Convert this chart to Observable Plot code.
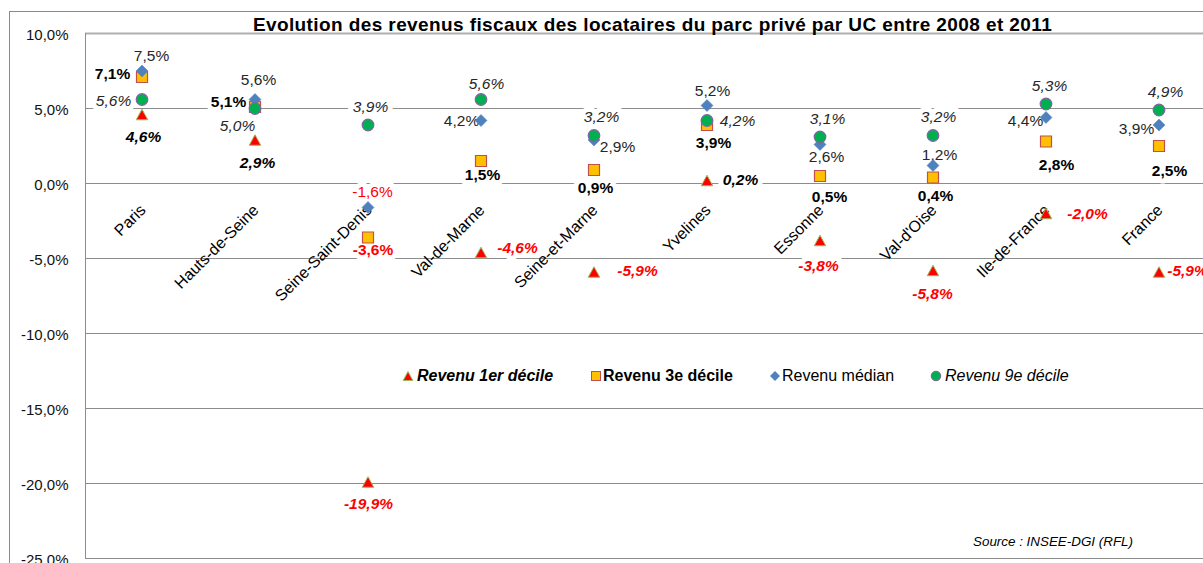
<!DOCTYPE html>
<html>
<head>
<meta charset="utf-8">
<script src="https://cdn.jsdelivr.net/npm/d3@7"></script>
<script src="https://cdn.jsdelivr.net/npm/@observablehq/plot@0.6"></script>
<style>
  html, body { margin: 0; padding: 0; background: #fff; }
  #wrap { position: relative; width: 1203px; height: 563px; overflow: hidden; font-family: "Liberation Sans", Arial, sans-serif; }
  #chart { position: absolute; left: 0; top: 0; }
  #border { position: absolute; left: 9px; top: 11px; width: 1400px; height: 800px; border-left: 1px solid #8a8a8a; border-top: 1px solid #8a8a8a; pointer-events: none; }
  #title { position: absolute; left: 0; top: 14px; width: 1305px; text-align: center; font-weight: bold; font-size: 19px; line-height: 22px; letter-spacing: 0.4px; color: #000; white-space: nowrap; }
  .leg { position: absolute; top: 367px; font-size: 16px; line-height: 18px; color: #000; white-space: nowrap; }
  .legm { position: absolute; top: 370px; width: 12px; height: 12px; }
  #source { position: absolute; left: 973px; top: 534px; font-size: 13.4px; line-height: 16px; font-style: italic; color: #000; white-space: nowrap; }
</style>
</head>
<body>
<div id="wrap">
  <div id="chart"></div>
  <div id="border"></div>
  <div id="title"></div>
  <div id="legend"></div>
  <div id="source"></div>
</div>
<script>
// ---------- data ----------
const categories = ["Paris", "Hauts-de-Seine", "Seine-Saint-Denis", "Val-de-Marne", "Seine-et-Marne", "Yvelines", "Essonne", "Val-d'Oise", "Ile-de-France", "France"];
const decile1 = [4.6, 2.9, -19.9, -4.6, -5.9, 0.2, -3.8, -5.8, -2.0, -5.9];
const decile3 = [7.1, 5.1, -3.6, 1.5, 0.9, 3.9, 0.5, 0.4, 2.8, 2.5];
const median  = [7.5, 5.6, -1.6, 4.2, 2.9, 5.2, 2.6, 1.2, 4.4, 3.9];
const decile9 = [5.6, 5.0, 3.9, 5.6, 3.2, 4.2, 3.1, 3.2, 5.3, 4.9];
const seriesNames = ["Revenu 1er décile", "Revenu 3e décile", "Revenu médian", "Revenu 9e décile"];
const yTicks = [10, 5, 0, -5, -10, -15, -20, -25];
const titleText = "Evolution des revenus fiscaux des locataires du parc privé par UC entre 2008 et 2011";
const sourceText = "Source : INSEE-DGI (RFL)";
const axisCrossing = 0;

// ---------- label placement (pixel offsets from each marker) ----------
const labelOffsets = {
  d1:  [[1.5, 23], [2.5, 23.5], [0.5, 22.5], [36.5, -4], [43.5, -0.5], [33.5, 0], [-1.5, 26], [-0.5, 24], [41.5, 1], [28.5, -1]],
  d3:  [[-29.5, -2.5], [-26.5, -4.5], [5, 13], [1.5, 14.5], [1.5, 18.5], [6.5, 18.5], [9.5, 21.5], [2.5, 19], [10.5, 24], [10.5, 25.5]],
  med: [[9.5, -14.5], [3.5, -19], [4.5, -15], [-19.5, 1], [23.5, 7.5], [5.5, -14], [6.5, 13], [6.5, -10], [-20.5, 4], [-22.5, 4.5]],
  d9:  [[-28.5, 2], [-17.5, 18], [2.5, -17.5], [5.5, -15], [7.5, -18], [30.5, 1], [7.5, -17.5], [5.5, -18], [3.5, -17.5], [6.5, -17.5]]
};

// ---------- styles ----------
const triangleSym = {draw(ctx) { const w = 11.5, h = 10.5; ctx.moveTo(0, -h / 2); ctx.lineTo(w / 2, h / 2); ctx.lineTo(-w / 2, h / 2); ctx.closePath(); }};
const squareSym = {draw(ctx) { const s = 11; ctx.moveTo(-s / 2, -s / 2); ctx.lineTo(s / 2, -s / 2); ctx.lineTo(s / 2, s / 2); ctx.lineTo(-s / 2, s / 2); ctx.closePath(); }};
const diamondSym = {draw(ctx) { const w = 12, h = 12; ctx.moveTo(0, -h / 2); ctx.lineTo(w / 2, 0); ctx.lineTo(0, h / 2); ctx.lineTo(-w / 2, 0); ctx.closePath(); }};

const seriesDefs = [
  {key: "d1",  name: seriesNames[0], values: decile1, symbol: triangleSym, r: 5, fill: "#FF0000", stroke: "#9BBB59", sw: 1,
   fontWeight: "bold", fontStyle: "italic", pos: "#000", neg: "#FF0000"},
  {key: "d3",  name: seriesNames[1], values: decile3, symbol: squareSym, r: 5, fill: "#FFC000", stroke: "#C0504D", sw: 1.2,
   fontWeight: "bold", fontStyle: "normal", pos: "#000", neg: "#FF0000"},
  {key: "med", name: seriesNames[2], values: median, symbol: diamondSym, r: 5, fill: "#4F81BD", stroke: "#4F81BD", sw: 0.5,
   fontWeight: "normal", fontStyle: "normal", pos: "#262626", neg: "#FF0000"},
  {key: "d9",  name: seriesNames[3], values: decile9, symbol: "circle", r: 5.8, fill: "#00B050", stroke: "#8064A2", sw: 1.2,
   fontWeight: "normal", fontStyle: "italic", pos: "#262626", neg: "#FF0000"}
];

const fmt = v => v.toFixed(1).replace(".", ",") + "%";

// ---------- marks ----------
const labelMarks = [];
const dotMarks = [];
for (const s of seriesDefs) {
  const rows = categories.map((c, i) => ({cat: c, value: s.values[i]}));
  rows.forEach((row, i) => {
    const [dx, dy] = labelOffsets[s.key][i];
    labelMarks.push(Plot.text([row], {
      x: "cat", y: "value", text: d => fmt(d.value), dx, dy,
      fontSize: 15.5, fontWeight: s.fontWeight, fontStyle: s.fontStyle,
      fill: row.value < 0 ? s.neg : s.pos,
      stroke: "white", strokeWidth: 10, strokeLinejoin: "round", paintOrder: "stroke",
      textAnchor: "middle", lineAnchor: "middle"
    }));
  });
  dotMarks.push(Plot.dot(rows, {
    x: "cat", y: "value", symbol: () => s.symbol, r: s.r,
    fill: s.fill, stroke: s.stroke, strokeWidth: s.sw
  }));
}

const chart = Plot.plot({
  width: 1203,
  height: 563,
  marginLeft: 85,
  marginRight: 0,
  marginTop: 33,
  marginBottom: 5,
  style: {fontFamily: "'Liberation Sans', Arial, sans-serif", background: "transparent"},
  x: {type: "band", domain: categories, range: [85, 1215], padding: 0, axis: null},
  y: {domain: [-25, 10], axis: null, label: null},
  symbol: {type: "identity"},
  marks: [
    Plot.ruleY(yTicks.filter(t => t !== 10), {stroke: "#8c8c8c", strokeWidth: 1}),
    Plot.ruleY([10], {stroke: "#b0b0b0", strokeWidth: 2}),
    Plot.frame({anchor: "left", stroke: "#8c8c8c", strokeWidth: 1}),
    Plot.axisY({ticks: yTicks, tickFormat: fmt, tickSize: 0, tickPadding: 17, fontSize: 15, dy: 2, color: "#111", anchor: "left", label: null}),
    ...labelMarks,
    Plot.text(categories, {
      x: d => d, y: () => axisCrossing, text: d => d, rotate: -45,
      textAnchor: "end", lineAnchor: "middle", dx: 1, dy: 24, fontSize: 16, fill: "#000"
    }),
    ...dotMarks
  ]
});
document.getElementById("chart").appendChild(chart);

// ---------- title, legend, source ----------
document.getElementById("title").textContent = titleText;
document.getElementById("source").textContent = sourceText;

const legendLayout = [
  {marker: 408, text: 417, weight: "bold", style: "italic"},
  {marker: 596, text: 603, weight: "bold", style: "normal"},
  {marker: 775, text: 782, weight: "normal", style: "normal"},
  {marker: 936, text: 945, weight: "normal", style: "italic"}
];
const legendShapes = [
  '<polygon points="6,1.5 10.8,10.5 1.2,10.5" fill="#FF0000" stroke="#9BBB59" stroke-width="1"/>',
  '<rect x="1.5" y="1.5" width="9" height="9" fill="#FFC000" stroke="#C0504D" stroke-width="1"/>',
  '<polygon points="6,1 11,6 6,11 1,6" fill="#4F81BD"/>',
  '<circle cx="6" cy="6" r="4.8" fill="#00B050" stroke="#8064A2" stroke-width="1"/>'
];
const legend = document.getElementById("legend");
seriesDefs.forEach((s, i) => {
  const L = legendLayout[i];
  const m = document.createElementNS("http://www.w3.org/2000/svg", "svg");
  m.setAttribute("class", "legm");
  m.setAttribute("viewBox", "0 0 12 12");
  m.style.left = (L.marker - 6) + "px";
  m.innerHTML = legendShapes[i];
  legend.appendChild(m);
  const t = document.createElement("div");
  t.className = "leg";
  t.style.left = L.text + "px";
  t.style.fontWeight = L.weight;
  t.style.fontStyle = L.style;
  t.textContent = s.name;
  legend.appendChild(t);
});
</script>
</body>
</html>
